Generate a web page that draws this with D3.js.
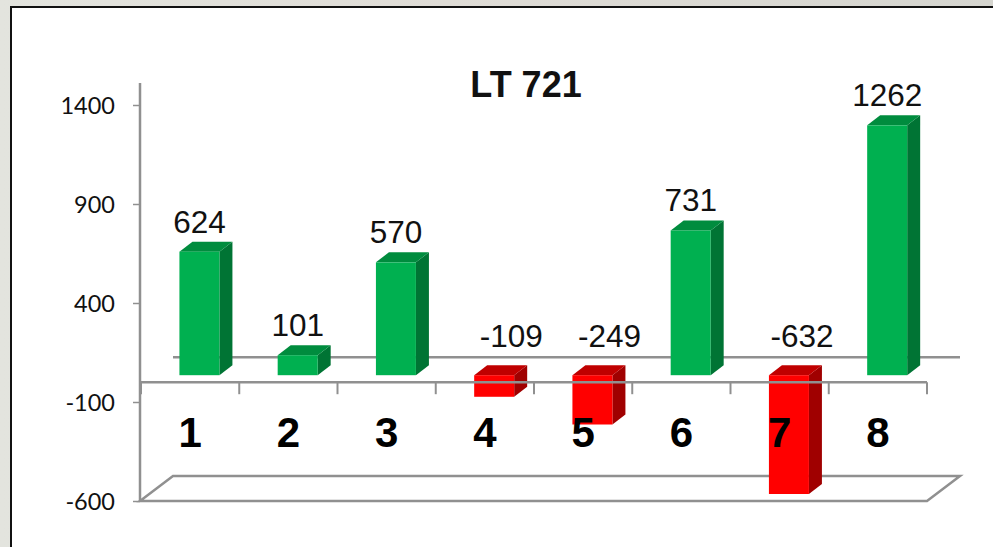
<!DOCTYPE html>
<html>
<head>
<meta charset="utf-8">
<script src="https://cdn.jsdelivr.net/npm/d3@7"></script>
<style>
html, body { margin: 0; padding: 0; background: #fff; }
svg { display: block; }
</style>
</head>
<body>
<script>
// data
var title = 'LT 721';
var categories = ['1', '2', '3', '4', '5', '6', '7', '8'];
var values = [624, 101, 570, -109, -249, 731, -632, 1262];
var yTicks = [-600, -100, 400, 900, 1400];

var W = 993, H = 547;
var svg = d3.select('body').append('svg').attr('width', W).attr('height', H);
var arial = '"Liberation Sans", Arial, sans-serif';
var gray = '#909090';

// slide background and frame
var bg = svg.append('defs').append('linearGradient').attr('id', 'bg');
bg.append('stop').attr('offset', '0').attr('stop-color', '#e3e4de');
bg.append('stop').attr('offset', '0.45').attr('stop-color', '#dfdcd6');
bg.append('stop').attr('offset', '1').attr('stop-color', '#d5d5cf');
svg.append('rect').attr('width', W).attr('height', H).attr('fill', 'url(#bg)');
svg.append('rect').attr('x', 11).attr('y', 7).attr('width', W).attr('height', H)
    .attr('fill', '#fff').attr('stroke', '#111').attr('stroke-width', 2);

// scales
var y = d3.scaleLinear().domain([-600, 1400]).range([501, 105]);
var x = d3.scaleBand().domain(categories).range([141, 927]);
var color = d3.scaleOrdinal().domain(['pos', 'neg']).range(['#00b050', '#ff0000']);
var sideColor = d3.scaleOrdinal().domain(['pos', 'neg']).range(['#007434', '#a00000']);
var topColor = d3.scaleOrdinal().domain(['pos', 'neg']).range(['#008c3e', '#c00000']);
function sign(d) { return d < 0 ? 'neg' : 'pos'; }

// 3d offsets
var depth = {x: 33, y: -25};     // whole floor depth
var bar = {x: 9.3, y: -7, w: 40, dx: 13, dy: -10};  // bar position inside the depth

// floor and back zero line
var floor = d3.path();
floor.moveTo(x.range()[0] - 1, y(-600));
floor.lineTo(x.range()[0] - 1 + depth.x, y(-600) + depth.y);
floor.lineTo(x.range()[1] + depth.x, y(-600) + depth.y);
floor.lineTo(x.range()[1], y(-600));
floor.closePath();
svg.append('path').attr('d', floor.toString())
    .attr('fill', 'none').attr('stroke', gray).attr('stroke-width', 2.5);

svg.append('line')
    .attr('x1', x.range()[0] + depth.x - 1).attr('x2', x.range()[1] + depth.x)
    .attr('y1', y(0) + depth.y).attr('y2', y(0) + depth.y)
    .attr('stroke', gray).attr('stroke-width', 2.5);

// bars, the -632 one gets cut at the axis minimum
var bars = svg.append('g').selectAll('g')
    .data(categories.map(function (c, i) { return {c: c, v: values[i]}; }))
    .enter().append('g');

function left(d) { return x(d.c) + (x.bandwidth() - bar.w) / 2 + bar.x; }
function yTop(d) { return y(Math.max(d.v, 0)) + bar.y; }
function yBot(d) { return y(Math.max(Math.min(d.v, 0), y.domain()[0])) + bar.y; }

bars.append('polygon')
    .attr('points', function (d) {
        var r = left(d) + bar.w;
        return [[r, yTop(d)], [r + bar.dx, yTop(d) + bar.dy], [r + bar.dx, yBot(d) + bar.dy], [r, yBot(d)]].join(' ');
    })
    .attr('fill', function (d) { return sideColor(sign(d.v)); });
bars.append('polygon')
    .attr('points', function (d) {
        var l = left(d), r = l + bar.w;
        return [[l, yTop(d)], [l + bar.dx, yTop(d) + bar.dy], [r + bar.dx, yTop(d) + bar.dy], [r, yTop(d)]].join(' ');
    })
    .attr('fill', function (d) { return topColor(sign(d.v)); });
bars.append('rect')
    .attr('x', left)
    .attr('y', yTop)
    .attr('width', bar.w)
    .attr('height', function (d) { return yBot(d) - yTop(d); })
    .attr('fill', function (d) { return color(sign(d.v)); });

// y axis, plain hyphen on the negatives
var yAxis = d3.axisLeft(y).tickValues(yTicks).tickSize(7).tickPadding(18).tickFormat(String);
var gy = svg.append('g').attr('transform', 'translate(' + (x.range()[0] - 1) + ',0)').call(yAxis);
gy.select('.domain').remove();
gy.selectAll('.tick line').attr('stroke', gray).attr('stroke-width', 1.5);
gy.selectAll('.tick text')
    .attr('fill', '#111')
    .attr('y', 1)
    .style('font-family', 'Lato, "Noto Sans", sans-serif')
    .style('font-size', '23.5px');
gy.append('line')
    .attr('x1', 0).attr('x2', 0)
    .attr('y1', y(-600)).attr('y2', y(1400) - 22)
    .attr('stroke', gray).attr('stroke-width', 2.5);

// x axis line sits on zero, drawn on top of the red bars
var gx = svg.append('g').attr('transform', 'translate(0,' + y(0) + ')');
gx.append('line')
    .attr('x1', x.range()[0] - 1).attr('x2', x.range()[1])
    .attr('stroke', gray).attr('stroke-width', 2.5);
gx.selectAll('.edge')
    .data(categories.concat(['end']))
    .enter().append('line')
    .attr('class', 'edge')
    .attr('x1', function (d) { return d === 'end' ? x.range()[1] : x(d); })
    .attr('x2', function (d) { return d === 'end' ? x.range()[1] : x(d); })
    .attr('y1', 0).attr('y2', 12)
    .attr('stroke', gray).attr('stroke-width', 2);

var xAxis = d3.axisBottom(x).tickSize(0).tickPadding(35);
var gl = svg.append('g').attr('transform', 'translate(0,' + y(0) + ')').call(xAxis);
gl.select('.domain').remove();
gl.selectAll('.tick text')
    .attr('fill', '#000')
    .style('font-family', arial)
    .style('font-weight', 'bold')
    .style('font-size', '42px');

// value labels
var nudge = {'7': -4};
svg.append('g').selectAll('text')
    .data(categories.map(function (c, i) { return {c: c, v: values[i]}; }))
    .enter().append('text')
    .attr('x', function (d) {
        var cx = left(d) + bar.w / 2;
        return d.v < 0 ? cx + 17 + (nudge[d.c] || 0) : cx;
    })
    .attr('y', function (d) { return d.v < 0 ? y(0) + bar.y - 28 : yTop(d) - 19; })
    .attr('text-anchor', 'middle')
    .attr('fill', '#111')
    .style('font-family', arial)
    .style('font-size', '31.5px')
    .text(function (d) { return d.v; });

// title
svg.append('text')
    .attr('x', 526).attr('y', 97)
    .attr('text-anchor', 'middle')
    .attr('fill', '#111')
    .style('font-family', arial)
    .style('font-weight', 'bold')
    .style('font-size', '36px')
    .text(title);
</script>
</body>
</html>
